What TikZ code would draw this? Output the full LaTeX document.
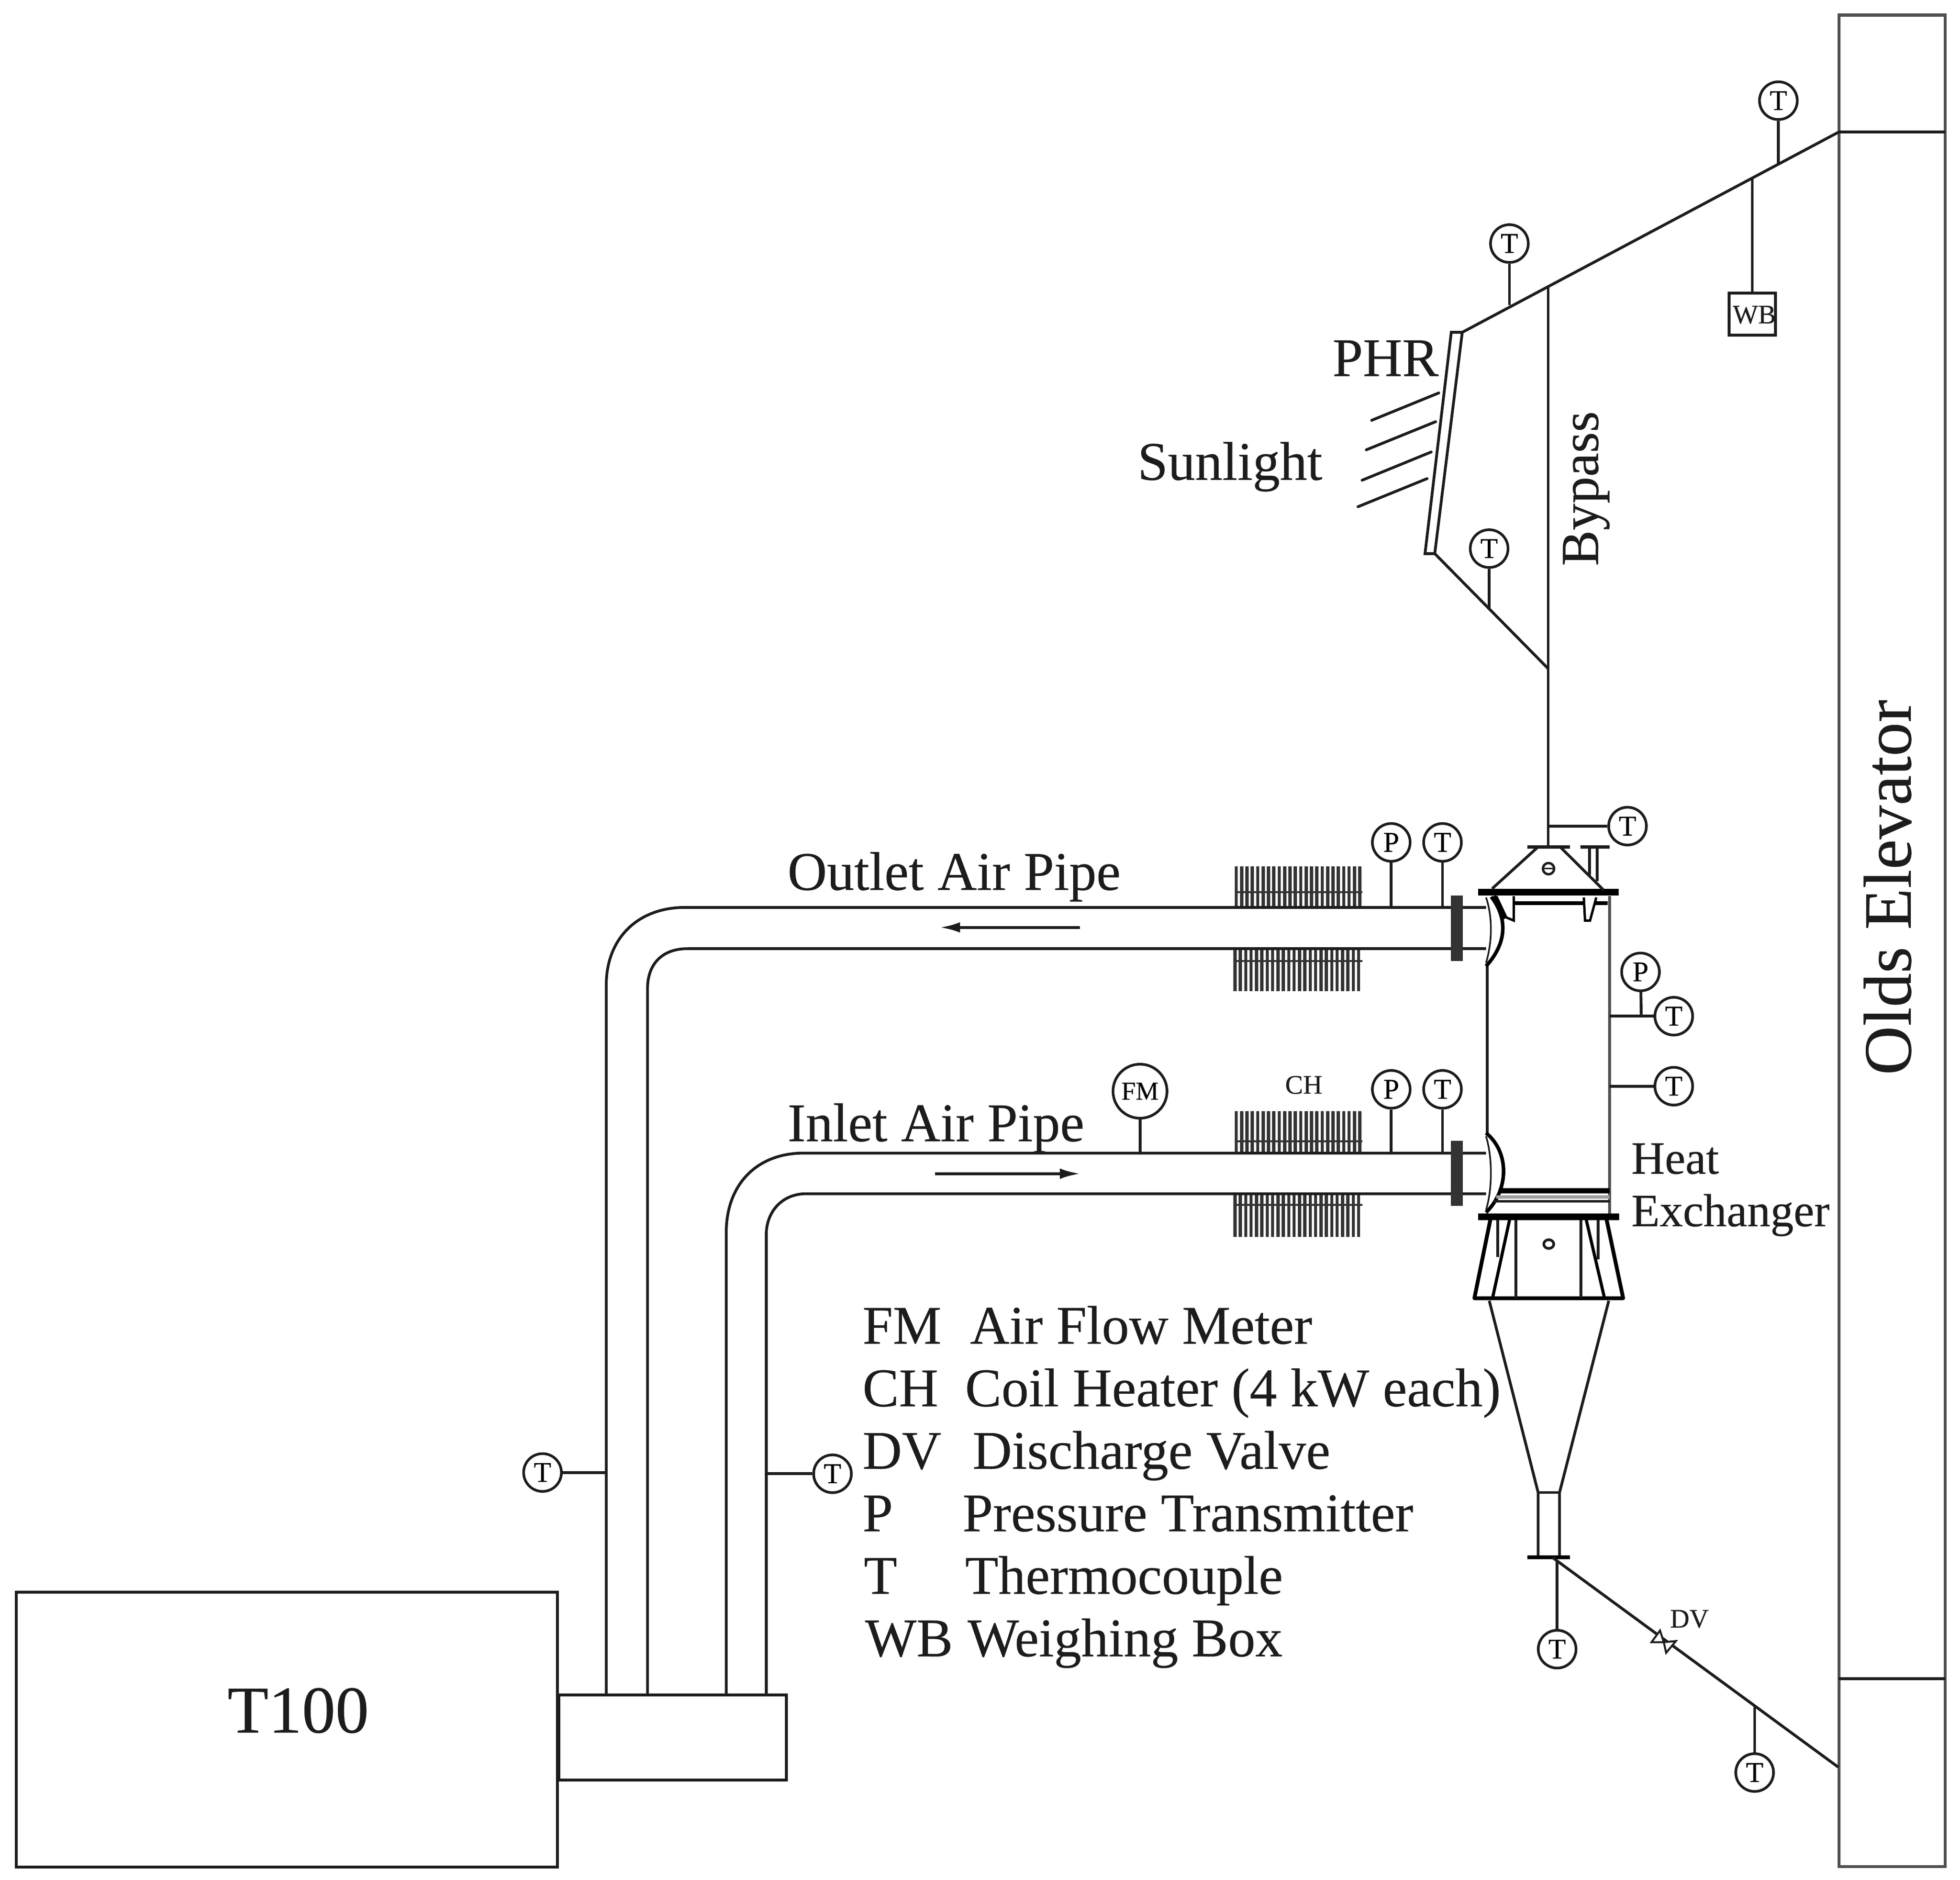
\documentclass[tikz,border=0pt]{standalone}
\usepackage{fontspec}
\setmainfont{Liberation Serif}[RawFeature={embolden=0.25}]
\usetikzlibrary{arrows.meta}
\newcommand\coilrow[3]{%
  \foreach \i in {0,...,23}{\draw[coil] ({#1+\i*4.3},#2) -- ({#1+\i*4.3},#3);}%
}
\tikzset{
  x=2.6148pt,y=-2.6148pt,
  line/.style={line width=5.8pt,draw=ink},
  wall/.style={line width=6.5pt,draw=wallc},
  heavy/.style={line width=8.5pt,draw=black},
  plate/.style={line width=14pt,draw=black},
  coil/.style={line width=6.6pt,draw=coilc},
  inst/.style={circle,draw=ink,line width=5.5pt,fill=white,minimum size=79pt,inner sep=0pt,font=\fontsize{60}{60}\selectfont},
  lab/.style={anchor=base west,inner sep=0pt,text=ink,font=\fontsize{114}{114}\selectfont},
  legend/.style={anchor=base west,inner sep=0pt,text=ink,font=\fontsize{114}{114}\selectfont},
  small/.style={inner sep=0pt,text=ink,font=\fontsize{56}{56}\selectfont},
  flange/.style={fill=flangec,draw=flangec,line width=2pt},
}
\definecolor{ink}{HTML}{1C1C1C}
\definecolor{wallc}{HTML}{505050}
\definecolor{coilc}{HTML}{333333}
\definecolor{flangec}{HTML}{333333}
\begin{document}
\begin{tikzpicture}
\useasboundingbox (0,0) rectangle (1568,1503.7);
\fill[white] (0,0) rectangle (1568,1503.7);
\begin{scope}[yshift=-2.1pt]

% ---- main boxes
\node[draw=wallc,line width=6.5pt,minimum width=85*2.6148pt,minimum height=1481*2.6148pt,inner sep=0pt] (elev) at (1513.7,751.8) {};
\node[rotate=90,inner sep=0pt,text=ink,font=\fontsize{142}{142}\selectfont] (eleLab) at (1510,709) {Olds Elevator};
\coordinate (elT) at (1556,104.8); \coordinate (elTw) at (1471,104.8);
\coordinate (elB) at (1556,1342); \coordinate (elBw) at (1471,1342);
\draw[line] (elTw) -- (elT);
\draw[line] (elBw) -- (elB);

\node[draw=ink,line width=5.8pt,minimum width=433*2.6148pt,minimum height=220*2.6148pt,inner sep=0pt] (t100) at (229.5,1382.6) {};
\node[anchor=base west,inner sep=0pt,text=ink,font=\fontsize{140}{140}\selectfont] (t100Lab) at (182,1385) {T100};
\node[draw=ink,line width=5.8pt,minimum width=182*2.6148pt,minimum height=68*2.6148pt,inner sep=0pt] (base) at (538,1389) {};

% ---- heater coils
\coilrow{989}{692}{725}
\coilrow{988}{758}{792}
\coilrow{989}{888}{921}
\coilrow{988}{954}{988.5}
\draw[line width=4pt,draw=coilc] (988,713) -- (1090,713);
\draw[line width=4pt,draw=coilc] (988,768) -- (1090,768);
\draw[line width=4pt,draw=coilc] (988,912) -- (1090,912);
\draw[line width=4pt,draw=coilc] (988,963) -- (1090,963);

% ---- air pipes
\draw[line] (485,1355) -- (485,787) .. controls (485,750) and (510,725) .. (548,725) -- (1188.8,725);
\draw[line] (518,1355) -- (518,790) .. controls (518,770) and (530,758) .. (550,758) -- (1188.8,758);
\draw[line] (581,1355) -- (581,985) .. controls (581,947) and (605,921.5) .. (643,921.5) -- (1188.8,921.5);
\draw[line] (613,1355) -- (613,987) .. controls (613,968) and (626,954) .. (645,954) -- (1188.8,954);
\draw[flange] (1161,716) rectangle (1170,767.5);
\draw[flange] (1161,912) rectangle (1170,963.5);

% ---- flow arrows
\coordinate (oa1) at (864,741); \coordinate (oa2) at (752,741);
\coordinate (ia1) at (748,938); \coordinate (ia2) at (864,938);
\draw[line,-{Latex[length=42pt,width=22pt]}] (oa1) -- (oa2);
\draw[line,-{Latex[length=42pt,width=22pt]}] (ia1) -- (ia2);

% ---- vessel
\draw[line] (1189.6,772) -- (1189.6,905);
\draw[wall] (1287.7,716) -- (1287.7,972);
\draw[plate] (1182.5,713) -- (1295,713);
\draw[heavy] (1210.7,721.7) -- (1286,721.7);
\draw[line width=5pt,draw=black,fill=white] (1197,716) -- (1205,733) -- (1211,735.5) -- (1211,716);
\draw[line width=5pt,draw=black,fill=white] (1267,717) -- (1268,735.5) -- (1272,735.5) -- (1277,717);
\draw[line width=9pt,draw=black] (1195,716) -- (1204,734);
% hood
\draw[line] (1193.7,710) -- (1230,677);
\draw[line] (1248.5,677) -- (1282.7,711);
\draw[line width=7pt,draw=ink] (1221.7,676.6) -- (1255.9,676.6);
\draw[line width=7pt,draw=ink] (1264.4,676.6) -- (1287.6,676.6);
\draw[line] (1271.7,677) -- (1271.7,699);
\draw[line] (1277.8,677) -- (1277.8,704);
\draw[line width=5pt,draw=ink] (1238.8,694) ellipse (4.5 and 4.5);
\draw[line width=3pt,draw=ink] (1234.5,694) -- (1243,694);
% crescents
\draw[line width=7.5pt,draw=black] (1193,716.5) .. controls (1205,732) and (1207,752) .. (1188.8,772);
\draw[line width=3.5pt,draw=ink] (1188.8,717) .. controls (1194,732) and (1194,752) .. (1188.8,769.4);
\draw[line width=7.5pt,draw=black] (1188.8,905.4) .. controls (1207,920) and (1208,950) .. (1188.8,969);
\draw[line width=3.5pt,draw=ink] (1188.8,908) .. controls (1194,925) and (1194,950) .. (1188.8,967);
% bottom flange bars
\draw[line width=11pt,draw=black] (1199,951.8) -- (1287.8,951.8);
\draw[line width=7pt,draw=gray!75] (1197,956.6) -- (1287.8,956.6);
\draw[line width=4.5pt,draw=ink] (1195,960) -- (1287.8,960);
\draw[plate] (1182.5,972.3) -- (1295.2,972.3);
% skirt
\draw[line width=8pt,draw=black,line join=round] (1192.2,975) -- (1179.5,1037.6) -- (1298.5,1037.6) -- (1285.3,975);
\draw[line width=6.5pt,draw=black] (1207.6,975) -- (1194,1037.6);
\draw[line width=6.5pt,draw=black] (1269,975) -- (1283.6,1037.6);
\draw[line] (1198.2,975) -- (1198.2,1004.5);
\draw[line] (1278.5,975) -- (1278.5,1006.4);
\draw[line] (1212.7,975) -- (1212.7,1037.6);
\draw[line] (1264.8,975) -- (1264.8,1037.6);
\draw[line width=5.5pt,draw=ink] (1239,994.3) ellipse (4 and 3.5);
% cone and neck
\draw[line] (1191.4,1039.6) -- (1230.5,1193) -- (1230.5,1244);
\draw[line] (1287,1039.6) -- (1247.6,1193) -- (1247.6,1244);
\draw[line] (1230.5,1193) -- (1247.6,1193);
\draw[line width=7.5pt,draw=black] (1221.7,1244.7) -- (1255.8,1244.7);

% ---- solar receiver and piping
\coordinate (phrTR) at (1169.8,265);
\coordinate (phrBR) at (1147.8,442);
\coordinate (bpTop) at (1238.5,227.9);
\coordinate (bpJoin) at (1238.5,534);
\coordinate (hoodTop) at (1238.5,677);
\draw[line,line join=miter] (1161,265) -- (phrTR) -- (phrBR) -- (1140,442) -- cycle;
\draw[line] (phrTR) -- (elTw);
\draw[line] (phrBR) -- (bpJoin);
\draw[line] (bpTop) -- (hoodTop);
\draw[line,line cap=round] (1097.3,335.4) -- (1151,313.5);
\draw[line,line cap=round] (1093,359) -- (1148.5,336.5);
\draw[line,line cap=round] (1089.7,383.3) -- (1145,360.7);
\draw[line,line cap=round] (1086.4,404.5) -- (1141.7,382);

% ---- discharge line
\coordinate (dlA) at (1242,1245);
\coordinate (dlB) at (1470.5,1412.6);
\draw[line] (dlA) -- (dlB);
\draw[line width=4pt,draw=ink,fill=white] (1331,1312.7) -- (1328,1303.4) -- (1321.2,1312.7) -- cycle;
\draw[line width=4pt,draw=ink,fill=white] (1331,1312.7) -- (1340.7,1311.8) -- (1332.9,1321.2) -- cycle;
\node[small,anchor=base west] (dvLab) at (1336,1301) {DV};

% ---- instruments
\node[inst] (tA) at (1422.7,79.7) {T};
\coordinate (tapA) at (1422.7,130);
\draw[line] (tA) -- (tapA);
\node[inst] (tB) at (1207.5,194) {T};
\coordinate (tapB) at (1207.5,243);
\draw[line] (tB) -- (tapB);
\node[draw=ink,line width=5.8pt,minimum width=37*2.6148pt,minimum height=33.6*2.6148pt,inner sep=0pt,fill=white] (wb) at (1401.8,250.5) {};
\node[small,anchor=center] (wbLab) at (1403.5,251) {WB};
\coordinate (tapW) at (1401.8,141.8);
\draw[line] (tapW) -- (wb);
\node[inst] (tC) at (1191.3,438) {T};
\coordinate (tapC) at (1191.3,486);
\draw[line] (tC) -- (tapC);
\node[inst] (tD) at (1302,660) {T};
\coordinate (tapD) at (1238.5,660);
\draw[line] (tD) -- (tapD);
\node[inst] (pE) at (1113,673) {P};
\coordinate (tapE) at (1113,725);
\draw[line] (pE) -- (tapE);
\node[inst] (tE) at (1154,673) {T};
\coordinate (tapEt) at (1154,725);
\draw[line] (tE) -- (tapEt);
\node[inst] (pF) at (1113,870.5) {P};
\coordinate (tapF) at (1113,921.5);
\draw[line] (pF) -- (tapF);
\node[inst] (tF) at (1154,870.5) {T};
\coordinate (tapFt) at (1154,921.5);
\draw[line] (tF) -- (tapFt);
\node[inst,minimum size=113pt,font=\fontsize{54}{54}\selectfont] (fm) at (912,872) {FM};
\coordinate (tapM) at (912,921.5);
\draw[line] (fm) -- (tapM);
\node[inst] (pG) at (1312.4,776.6) {P};
\node[inst] (tG) at (1339,812) {T};
\coordinate (tapG) at (1287.7,812);
\coordinate (tapGp) at (1313,812);
\draw[line] (tG) -- (tapG);
\draw[line] (pG) -- (tapGp);
\node[inst] (tH) at (1339,868) {T};
\coordinate (tapH) at (1287.7,868);
\draw[line] (tH) -- (tapH);
\node[inst] (tI) at (434,1177) {T};
\coordinate (tapI) at (485,1177);
\draw[line] (tI) -- (tapI);
\node[inst] (tJ) at (666,1178) {T};
\coordinate (tapJ) at (613,1178);
\draw[line] (tJ) -- (tapJ);
\node[inst] (tK) at (1245.7,1318.3) {T};
\coordinate (tapK) at (1245.7,1247);
\draw[line] (tK) -- (tapK);
\node[inst] (tL) at (1403.7,1417) {T};
\coordinate (tapL) at (1403.7,1364);
\draw[line] (tL) -- (tapL);

% ---- labels
\node[lab] (outLab) at (630,711) {Outlet Air Pipe};
\node[lab] (inLab) at (630,912) {Inlet Air Pipe};
\node[lab] (phrLab) at (1066,300) {PHR};
\node[lab] (sunLab) at (910,383) {Sunlight};
\node[rotate=90,inner sep=0pt,text=ink,font=\fontsize{112}{112}\selectfont] (bypLab) at (1269,390) {Bypass};
\node[lab,font=\fontsize{97}{97}\selectfont] (heatLab) at (1305,938) {Heat};
\node[lab,font=\fontsize{97}{97}\selectfont] (exLab) at (1305,980) {Exchanger};
\node[small] (chLab) at (1043,867) {CH};

% ---- legend
\node[legend] (l1a) at (690,1074) {FM};  \node[legend] (l1b) at (776,1074) {Air Flow Meter};
\node[legend] (l2a) at (690,1124) {CH};  \node[legend] (l2b) at (772,1124) {Coil Heater (4 kW each)};
\node[legend] (l3a) at (690,1174) {DV};  \node[legend] (l3b) at (778,1174) {Discharge Valve};
\node[legend] (l4a) at (690,1224) {P};   \node[legend] (l4b) at (770,1224) {Pressure Transmitter};
\node[legend] (l5a) at (691,1274) {T};   \node[legend] (l5b) at (772,1274) {Thermocouple};
\node[legend] (l6a) at (692,1324) {WB};  \node[legend] (l6b) at (774,1324) {Weighing Box};
\end{scope}
\end{tikzpicture}
\end{document}
